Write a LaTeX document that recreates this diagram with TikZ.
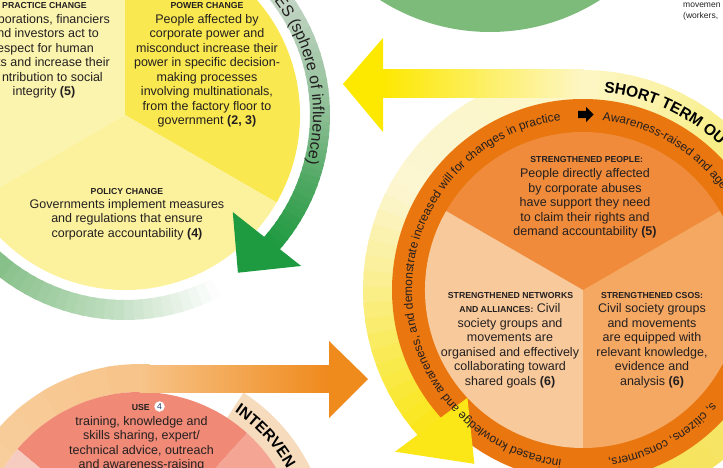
\documentclass[tikz,border=0pt]{standalone}
\usepackage{fontspec}
\setmainfont{Liberation Sans}
\usetikzlibrary{decorations.text}
\definecolor{txt}{HTML}{231F20}
\definecolor{navy}{HTML}{1F3A6E}
\definecolor{topgreen}{HTML}{7DBB7B}
\definecolor{practice}{HTML}{FBF4AE}
\definecolor{power}{HTML}{F9E84F}
\definecolor{policy}{HTML}{FCF29E}
\definecolor{gA}{HTML}{BCDCBC}
\definecolor{gB}{HTML}{86BF88}
\definecolor{gC}{HTML}{C4D6C6}
\definecolor{gD}{HTML}{8DBE95}
\definecolor{gE}{HTML}{4FA862}
\definecolor{gF}{HTML}{1E9A40}
\definecolor{yA}{HTML}{F5E255}
\definecolor{yB}{HTML}{F6E66A}
\definecolor{yC}{HTML}{F8EE85}
\definecolor{yD}{HTML}{FDF6C6}
\definecolor{yE}{HTML}{FCF6D2}
\definecolor{yF}{HTML}{FAEF98}
\definecolor{yG}{HTML}{F9EA50}
\definecolor{yH}{HTML}{FBE618}
\definecolor{ybright}{HTML}{FDE800}
\definecolor{oring}{HTML}{E9760F}
\definecolor{otop}{HTML}{EF8B3A}
\definecolor{oleft}{HTML}{F8C99B}
\definecolor{oright}{HTML}{F5A862}
\definecolor{ivA}{HTML}{FAD9B3}
\definecolor{ivB}{HTML}{F7C48A}
\definecolor{ivC}{HTML}{EF8A1C}
\definecolor{beige}{HTML}{F6DCBD}
\definecolor{salmon}{HTML}{F08A77}
\definecolor{salmonR}{HTML}{F4A593}
\definecolor{salmonL}{HTML}{F6CBC0}
\newcommand\ringgrad[7]{%
  \foreach \i in {1,...,#7}{%
    \pgfmathsetmacro\angA{#1+(#2-#1)*(\i-1)/#7}%
    \pgfmathsetmacro\angB{#1+(#2-#1)*(\i+0.3)/#7}%
    \pgfmathsetmacro\pct{100*(\i-0.5)/#7}%
    \colorlet{segc}{#4!\pct!#3}%
    \fill[segc] (\angA:#5) arc[start angle=\angA,end angle=\angB,radius=#5]
      -- (\angB:#6) arc[start angle=\angB,end angle=\angA,radius=#6] -- cycle;
  }}
\newcommand\hdf{\fontsize{8.7}{14.5}\selectfont\bfseries}
\newcommand\ringf{\fontsize{12}{14}\selectfont}
\newcommand\titlef{\fontsize{15.5}{17}\selectfont\bfseries}
\begin{document}
\begin{tikzpicture}[x=1pt,y=1pt,
  bodytxt/.style={align=center,inner sep=0pt,font=\fontsize{12.5}{14.5}\selectfont,text=txt,anchor=base},
  hdtxt/.style={inner sep=0pt,font=\hdf,text=txt,anchor=base},
  linetxt/.style={inner sep=0pt,font=\fontsize{12.5}{14.5}\selectfont,text=txt,anchor=base east},
  smalltxt/.style={inner sep=0pt,font=\fontsize{8.5}{10}\selectfont,text=txt,anchor=base west}]
\useasboundingbox (0,0) rectangle (723,467);
\clip (0,0) rectangle (723,467);

% top green circle
\fill[topgreen] (490,640) circle[radius=205pt];

% ---------- long term circle ----------
\coordinate (LT) at (125,352);
\begin{scope}[shift={(LT)}]
  \fill[practice] (0,0) -- (90:175pt) arc[start angle=90,end angle=210,radius=175pt] -- cycle;
  \fill[power] (0,0) -- (-30:175pt) arc[start angle=-30,end angle=90,radius=175pt] -- cycle;
  \fill[policy] (0,0) -- (210:175pt) arc[start angle=210,end angle=330,radius=175pt] -- cycle;
  \ringgrad{-62}{-96}{white}{gA}{185pt}{205pt}{12}
  \ringgrad{-96}{-130}{gA}{gB}{185pt}{205pt}{12}
  \ringgrad{-130}{-324}{gB}{gC}{185pt}{205pt}{30}
  \ringgrad{-324}{-360}{gC}{gD}{185pt}{205pt}{14}
  \ringgrad{-360}{-380}{gD}{gE}{185pt}{205pt}{10}
  \ringgrad{-380}{-401.5}{gE}{gF}{185pt}{205pt}{10}
  \fill[gF] (-42:145pt) -- (-40.6:232pt) -- (-54.4:194pt) -- cycle;
  \path[decorate,decoration={text along path,text color=txt,
    text={|\fontsize{16}{18}\selectfont|ES (sphere of influence)}}]
    (37.5:188pt) arc[start angle=37.5,end angle=-40,radius=188pt];
\end{scope}

\node[hdtxt] (practiceHd) at (44.5,458.7) {PRACTICE CHANGE};
\node[linetxt] (pr1) at (110,443.7) {porations, financiers};
\node[linetxt] (pr2) at (99,429.2) {nd investors act to};
\node[linetxt] (pr3) at (94,414.7) {espect for human};
\node[linetxt] (pr4) at (110,400.2) {ts and increase their};
\node[linetxt] (pr5) at (103,385.7) {ntribution to social};
\node[bodytxt] (pr6) at (44,371.2) {integrity \textbf{(5)}};

\node[hdtxt] (powerHd) at (207,458.7) {POWER CHANGE};
\node[bodytxt] (powerTx) at (207,342.2) {People affected by\\corporate power and\\misconduct increase their\\power in specific decision-\\making processes\\involving multinationals,\\from the factory floor to\\government \textbf{(2, 3)}};

\node[hdtxt] (policyHd) at (127,272.5) {POLICY CHANGE};
\node[bodytxt] (policyTx) at (127,230) {Governments implement measures\\and regulations that ensure\\corporate accountability \textbf{(4)}};

% ---------- short term circle ----------
\coordinate (ST) at (583,177);
\begin{scope}[shift={(ST)}]
  \ringgrad{-75}{-40}{yA}{yB}{190pt}{220pt}{6}
  \ringgrad{-40}{45}{yB}{yC}{190pt}{220pt}{14}
  \ringgrad{45}{90}{yC}{yD}{190pt}{220pt}{10}
  \ringgrad{90}{150}{yD}{yE}{190pt}{220pt}{10}
  \ringgrad{150}{175}{yE}{yF}{190pt}{220pt}{6}
  \ringgrad{175}{200}{yF}{yG}{190pt}{220pt}{6}
  \ringgrad{200}{222}{yG}{yH}{190pt}{220pt}{6}
\end{scope}
\shade[left color=ybright,right color=yD] (382,369) rectangle (584,397);
\fill[ybright] (383,429) -- (343,383) -- (383,335) -- cycle;
\begin{scope}[shift={(ST)}]
  \fill[oring] (0,0) circle[radius=191pt];
  \fill[otop] (0,0) -- (30:158pt) arc[start angle=30,end angle=150,radius=158pt] -- cycle;
  \fill[oleft] (0,0) -- (150:158pt) arc[start angle=150,end angle=270,radius=158pt] -- cycle;
  \fill[oright] (0,0) -- (270:158pt) arc[start angle=270,end angle=390,radius=158pt] -- cycle;
  \fill[yH] (223:158pt) -- (220.7:248pt) -- (238:205pt) -- cycle;
  \path[decorate,decoration={text along path,text color=txt,
    text={|\ringf|increased knowledge and awareness, and demonstrate increased will for changes in practice}}]
    (262.8:171pt) arc[start angle=262.8,end angle=80,radius=171pt];
  \path[decorate,decoration={text along path,text color=txt,
    text={|\ringf|Awareness-raised and age}}]
    (83.5:171pt) arc[start angle=83.5,end angle=15,radius=171pt];
  \path[decorate,decoration={text along path,text color=txt,
    text={|\ringf|s, citizens, consumers,}}]
    (-41:171pt) arc[start angle=-41,end angle=-100,radius=171pt];
  \path[decorate,decoration={text along path,text color=black,
    text={|\titlef|SHORT TERM OU}}]
    (84:199pt) arc[start angle=84,end angle=30,radius=199pt];
\end{scope}
\fill[black] (578,349) -- (586,349) -- (586,345) -- (593.5,352.5) -- (586,360) -- (586,356) -- (578,356) -- cycle;

\node[hdtxt] (peopleHd) at (586.7,304.3) {STRENGTHENED PEOPLE:};
\node[bodytxt] (peopleTx) at (585,231.5) {People directly affected\\by corporate abuses\\have support they need\\to claim their rights and\\demand accountability \textbf{(5)}};
\node[hdtxt] (netHd) at (510.5,168.7) {STRENGTHENED NETWORKS};
\node[bodytxt] (netTx) at (510,81.8) {{\hdf AND ALLIANCES:} Civil\\society groups and\\movements are\\organised and effectively\\collaborating toward\\shared goals \textbf{(6)}};
\node[hdtxt] (csoHd) at (652,168.7) {STRENGTHENED CSOS:};
\node[bodytxt] (csoTx) at (652,81.8) {Civil society groups\\and movements\\are equipped with\\relevant knowledge,\\evidence and\\analysis \textbf{(6)}};

% ---------- intervention circle ----------
\coordinate (IV) at (140,-85);
\begin{scope}[shift={(IV)}]
  \ringgrad{215}{90}{ivA}{ivB}{160pt}{188pt}{12}
  \fill[beige] (57:160pt) arc[start angle=57,end angle=-30,radius=160pt]
    -- (-30:190pt) arc[start angle=-30,end angle=57,radius=190pt] -- cycle;
  \fill[salmon] (0,0) -- (48:160pt) arc[start angle=48,end angle=140,radius=160pt] -- cycle;
  \fill[salmonR] (0,0) -- (-40:160pt) arc[start angle=-40,end angle=48,radius=160pt] -- cycle;
  \fill[salmonL] (0,0) -- (140:160pt) arc[start angle=140,end angle=230,radius=160pt] -- cycle;
  \path[decorate,decoration={text along path,text color=black,
    text={|\titlef|INTERVEN}}]
    (56:169pt) arc[start angle=56,end angle=0,radius=169pt];
\end{scope}
\shade[left color=ivB,right color=ivC] (139.5,75) rectangle (330,102);
\fill[ivC] (329,126) -- (368,88) -- (329,49) -- cycle;

\node[hdtxt,anchor=base east] (use) at (150,57) {USE};
\node[circle,fill=white,inner sep=0pt,minimum size=10.5pt,font=\fontsize{8.5}{9}\selectfont,text=navy] (four) at (159.5,60.5) {4};
\node[bodytxt] (useTx) at (141.5,-1.5) {training, knowledge and\\skills sharing, expert/\\technical advice, outreach\\and awareness-raising};

\node[smalltxt] (mv1) at (683,459.7) {movemen};
\node[smalltxt] (mv2) at (683,448.7) {(workers,};
\end{tikzpicture}
\end{document}
